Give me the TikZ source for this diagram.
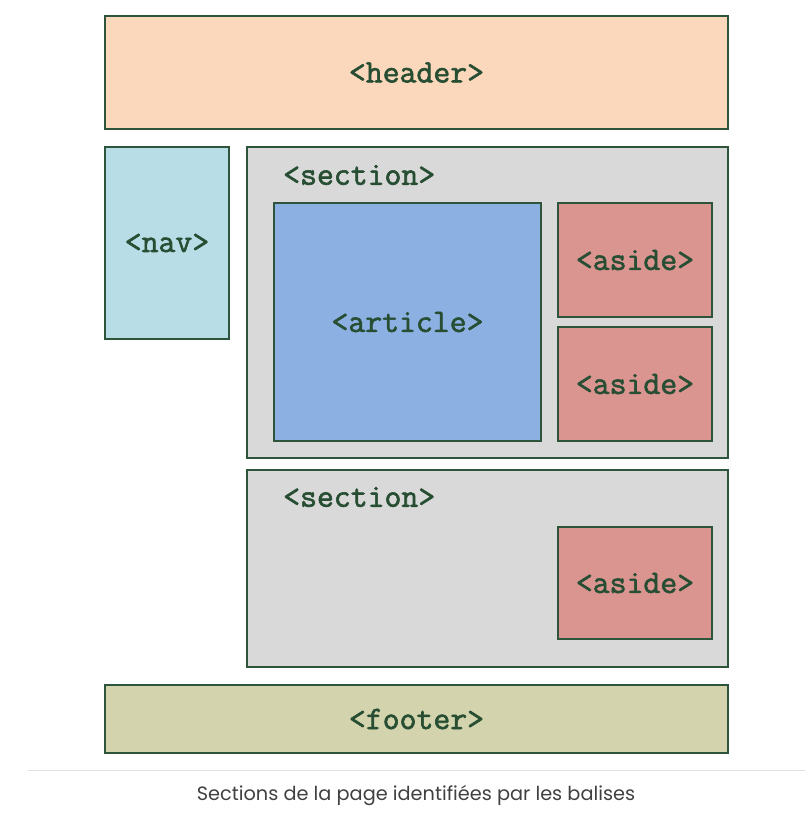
\documentclass[tikz,border=0pt]{standalone}
\usepackage{fontspec}
\newfontfamily\tagfont[FakeBold=1.8]{Latin Modern Mono}
\newfontfamily\capfont{Poppins}
\usetikzlibrary{positioning}

\definecolor{mpeach}{RGB}{251,215,187}
\definecolor{mlightblue}{RGB}{184,221,230}
\definecolor{mgrey}{RGB}{217,217,217}
\definecolor{mblue}{RGB}{141,176,227}
\definecolor{mrose}{RGB}{218,149,145}
\definecolor{molive}{RGB}{211,211,173}
\definecolor{mframe}{RGB}{47,84,60}
\definecolor{mtext}{RGB}{39,78,51}
\newcommand*{\colHead}{mpeach}
\newcommand*{\colNav}{mlightblue}
\newcommand*{\colSec}{mgrey}
\newcommand*{\colArt}{mblue}
\newcommand*{\colAside}{mrose}
\newcommand*{\colFoot}{molive}

\tikzset{
    tagbox/.style={rectangle, draw=mframe, line width=1.2pt, inner sep=0pt, outer sep=0pt,
        font=\tagfont\fontsize{32.8}{35}\selectfont, text=mtext},
    taglabel/.style={inner sep=0pt, font=\tagfont\fontsize{32.8}{35}\selectfont, text=mtext}
}

\begin{document}
\begin{tikzpicture}[x=1pt,y=-1pt]

    \useasboundingbox (0,0) rectangle (810,815);

    \node [tagbox, fill=\colHead, minimum width=623, minimum height=113] (header) at (416.5,72.5) {<header>};
    \node [tagbox, fill=\colNav, minimum width=124, minimum height=192] (nav) at (167,243) {<nav>};

    \node [tagbox, fill=\colSec, minimum width=481, minimum height=311] (section1) at (487.5,302.5) {};
    \node [taglabel, anchor=west] (section1lbl) at (283,175) {<section>};
    \node [tagbox, fill=\colArt, minimum width=267, minimum height=238] (article) at (407.5,322) {<article>};
    \node [tagbox, fill=\colAside, minimum width=154, minimum height=114] (aside1) at (635,260) {<aside>};
    \node [tagbox, fill=\colAside, minimum width=154, minimum height=114] (aside2) at (635,384) {<aside>};

    \node [tagbox, fill=\colSec, minimum width=481, minimum height=197] (section2) at (487.5,568.5) {};
    \node [taglabel, anchor=west] (section2lbl) at (283,497) {<section>};
    \node [tagbox, fill=\colAside, minimum width=154, minimum height=112] (aside3) at (635,583) {<aside>};

    \node [tagbox, fill=\colFoot, minimum width=623, minimum height=68] (footer) at (416.5,719) {<footer>};

    % separator and caption
    \coordinate (sepL) at (28,770);
    \coordinate (sepR) at (805,770);
    \draw [line width=1pt, black!12] (sepL) -- (sepR);
    \node [inner sep=0pt, font=\capfont\fontsize{19.3}{22}\selectfont, text=black!75] (caption) at (416,796) {Sections de la page identifiées par les balises};

\end{tikzpicture}
\end{document}
